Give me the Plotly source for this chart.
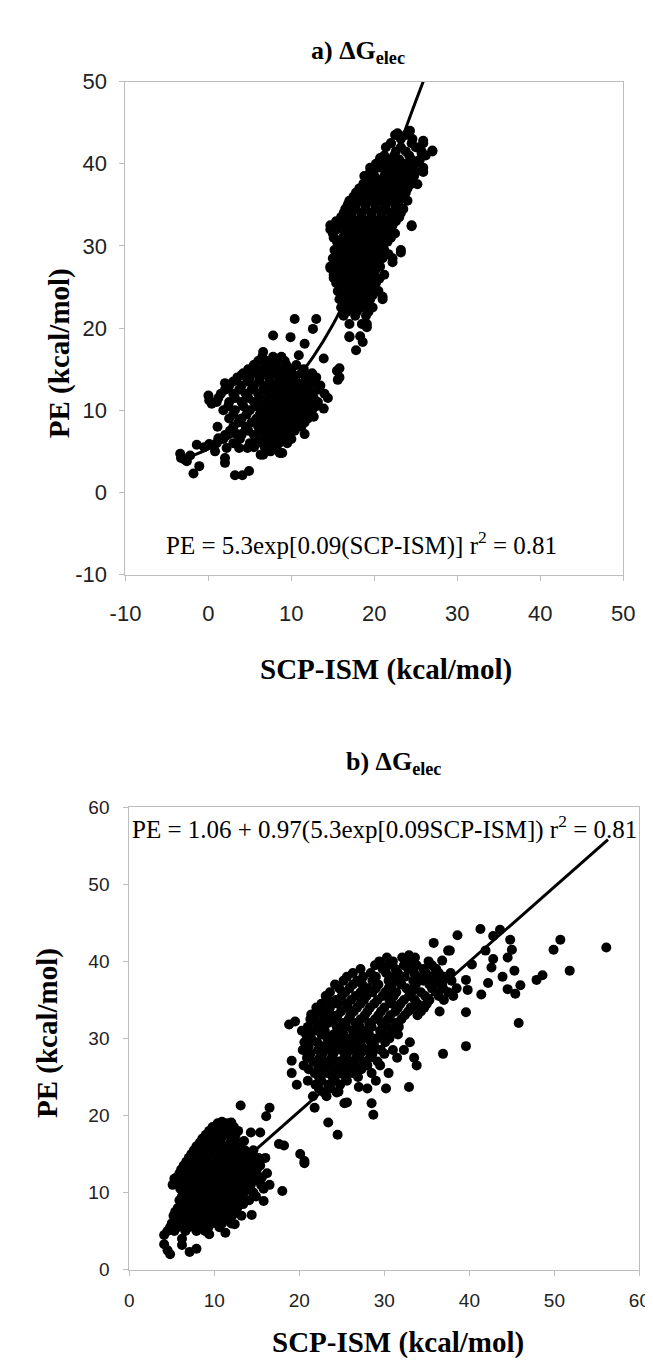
import plotly.graph_objects as go

W, H = 653, 1361

# ---------------- Panel a data (SCP-ISM vs PE) ----------------
a_lower_edge = [(-3.4,4.7),(-3.3,4.2),(-2.6,3.8),(-2.9,4.0),(-1.8,2.3),(-1.1,3.2),(-1.4,5.8),(-2.2,4.5),
    (-0.5,5.5),(0.1,5.9),(0.0,11.8),(0.1,11.2),(0.4,10.8),(1.1,8.0),(1.2,6.6),(2.2,5.4),(3.7,5.4),(4.7,5.4),
    (2.0,4.2),(2.0,3.6),(3.2,2.1),(4.1,2.1),(4.9,2.6),(6.3,4.6),(6.6,4.6),(8.6,4.8),(8.9,4.8),(3.4,7.1),
    (2.0,13.3),(4.0,14.3),(5.5,15.5),(6.6,17.1),(7.8,19.1),(9.9,18.9),(10.4,21.1),(13.0,21.1),(12.6,19.9),
    (11.6,18.1),(10.9,16.7),(13.9,16.3),(15.5,14.8),(15.6,13.7),(17.0,18.9),(17.8,17.3),(13.9,10.2),
    (12.7,9.2),(11.6,7.1),(10.5,7.8),(14.4,11.5),(18.6,18.3),(19.1,20.1),(15.8,15.1),(15.8,14.0)]
a_lower_core_y = [16, 15, 14, 13, 12, 11, 10, 9, 8, 7, 6, 5]
a_lower_core_x = [
    [6.0, 7.2, 8.3, 9.2],
    [4.8, 6.5, 7.5, 8.8, 10.0, 11.5],
    [3.5, 5.0, 6.2, 7.3, 8.5, 9.5, 10.5, 12.0, 13.0],
    [2.5, 4.0, 5.5, 6.8, 8.0, 9.0, 10.0, 11.0, 12.2, 13.5],
    [1.5, 3.0, 4.5, 6.0, 7.2, 8.3, 9.3, 10.3, 11.3, 12.5, 14.0],
    [1.0, 2.5, 4.0, 5.5, 6.8, 8.0, 9.0, 10.0, 11.0, 12.0, 13.2],
    [1.8, 3.2, 5.0, 6.5, 7.5, 8.5, 9.5, 10.5, 11.5, 12.5],
    [2.5, 4.0, 5.8, 7.0, 8.0, 9.0, 10.0, 11.0, 12.0],
    [3.0, 4.5, 6.0, 7.2, 8.2, 9.2, 10.2, 11.2],
    [2.0, 4.0, 5.5, 6.8, 7.8, 8.8, 9.8],
    [1.0, 3.0, 5.0, 6.5, 7.5, 8.5, 9.5],
    [0.8, 7.5],
]
a_lower_mid_y = [16.5, 15.5, 14.5, 13.5, 12.5, 11.5, 10.5, 9.5, 8.5, 7.5, 6.5, 5.5]
a_lower_mid_x = [
    [6.5, 7.8, 8.8],
    [5.5, 7.0, 8.1, 9.4, 10.6],
    [4.2, 5.7, 6.8, 7.9, 9.0, 10.1, 11.2, 12.5],
    [3.0, 4.7, 6.1, 7.4, 8.5, 9.5, 10.5, 11.6, 12.8],
    [2.0, 3.7, 5.2, 6.6, 7.7, 8.8, 9.8, 10.8, 11.9, 13.2],
    [1.2, 3.2, 4.8, 6.2, 7.5, 8.6, 9.6, 10.6, 11.6, 12.7],
    [2.4, 4.2, 5.8, 7.0, 8.0, 9.0, 10.0, 11.0, 12.0, 13.0],
    [3.0, 4.6, 6.2, 7.3, 8.3, 9.3, 10.3, 11.3, 12.3],
    [3.6, 5.2, 6.6, 7.7, 8.7, 9.7, 10.7, 11.6],
    [2.6, 4.8, 6.3, 7.4, 8.4, 9.4, 10.4],
    [1.8, 3.8, 5.8, 7.0, 8.0, 9.0, 10.0],
    [5.5, 6.8, 8.2],
]
a_upper_y = [43.5, 42.5, 41.5, 40.5, 39.5, 38.5, 37.5, 36.5, 35.5, 34.5, 33.5, 32.5, 31.5, 30.5,
             29.5, 28.5, 27.5, 26.5, 25.5, 24.5, 23.5, 22.5, 21.5, 20.5, 19.0]
a_upper_x = [
    [22.5, 23.8],
    [22.0, 24.5, 25.9],
    [22.6, 23.8, 25.7, 27.0],
    [20.7, 21.8, 23.0, 24.5, 25.5],
    [19.5, 20.8, 22.0, 23.2, 24.3, 25.9],
    [18.8, 20.0, 21.2, 22.4, 23.6, 24.8],
    [18.7, 19.8, 21.0, 22.2, 23.3, 24.4, 25.2],
    [17.8, 19.0, 20.2, 21.4, 22.6, 23.8],
    [17.0, 18.2, 19.4, 20.6, 21.8, 23.0, 24.0],
    [16.5, 17.7, 18.9, 20.1, 21.3, 22.5, 23.5],
    [16.0, 17.2, 18.4, 19.6, 20.8, 22.0, 23.0],
    [14.7, 16.2, 17.4, 18.6, 19.8, 21.0, 22.2, 24.5],
    [15.0, 16.5, 17.7, 18.9, 20.1, 21.3, 22.5],
    [15.5, 16.8, 18.0, 19.2, 20.4, 21.6],
    [15.2, 16.4, 17.6, 18.8, 20.0, 21.2, 23.2],
    [15.0, 16.2, 17.4, 18.6, 19.8, 21.0, 22.2],
    [14.7, 15.9, 17.1, 18.3, 19.5, 20.7],
    [15.1, 16.3, 17.5, 18.7, 19.9, 21.2],
    [15.4, 16.6, 17.8, 19.0, 20.2],
    [15.6, 16.8, 18.0, 19.2, 20.5],
    [15.8, 17.0, 18.2, 19.5, 21.0],
    [16.0, 17.2, 18.4, 19.8],
    [16.3, 17.7, 19.0],
    [17.0, 18.5, 19.1],
    [17.0, 18.3],
]
a_upper_mid_y = [43.0, 42.0, 41.0, 40.0, 39.0, 38.0, 37.0, 36.0, 35.0, 34.0, 33.0, 32.0, 31.0, 30.0,
                 29.0, 28.0, 27.0, 26.0, 25.0, 24.0, 23.0, 22.0]
a_upper_mid_x = [
    [23.2, 24.6],
    [21.4, 23.2, 25.0],
    [21.2, 22.4, 24.2, 26.2],
    [20.2, 21.4, 22.4, 23.7, 24.9],
    [19.9, 21.5, 22.7, 23.9, 25.0],
    [19.4, 20.5, 21.7, 22.9, 24.1],
    [18.2, 19.4, 20.5, 21.7, 22.8, 24.0],
    [17.5, 18.6, 19.8, 21.0, 22.2, 23.3],
    [16.8, 17.8, 19.0, 20.2, 21.4, 22.6],
    [16.3, 17.3, 18.5, 19.7, 20.9, 22.0, 23.2],
    [15.4, 16.6, 17.8, 19.0, 20.2, 21.4, 22.6],
    [15.5, 16.8, 18.0, 19.2, 20.4, 21.6],
    [15.1, 16.2, 17.4, 18.6, 19.8, 21.0, 22.0],
    [16.0, 17.2, 18.4, 19.6, 20.8],
    [15.6, 16.8, 18.0, 19.2, 20.4, 21.7],
    [15.4, 16.6, 17.8, 19.0, 20.2],
    [15.3, 16.5, 17.7, 18.9, 20.1],
    [15.8, 17.0, 18.2, 19.4, 20.6],
    [16.0, 17.2, 18.4, 19.6],
    [16.2, 17.4, 18.6, 19.8],
    [16.4, 17.6, 18.9],
    [16.7, 17.9, 19.3],
]
a_upper_edge = [(22.8,43.7),(24.3,44.0),(22.0,42.5),(25.9,42.8),(27.0,41.6),(25.7,41.3),(20.7,40.7),
    (24.5,40.4),(25.9,39.0),(19.5,39.0),(18.7,37.6),(17.0,35.4),(24.5,32.4),(14.7,32.0),(16.2,32.8),
    (23.2,29.2),(22.2,28.0),(14.7,27.3),(15.1,26.1),(21.0,23.8)]

# trend line of panel a
a_fit_x = [-3.5, 0, 5, 10, 15, 20, 23, 25.9]
a_fit_y = [3.9, 5.3, 8.3, 13.0, 20.4, 32.0, 42.0, 50.0]

# ---------------- Panel b data ----------------
b_lower_edge = [(4.1,4.5),(4.1,3.3),(4.5,2.5),(4.8,2.0),(6.2,4.0),(6.2,3.2),(7.1,2.3),(7.9,2.7),(9.4,4.6),
    (11.3,4.8),(12.4,5.9),(14.4,7.1),(15.8,8.9),(14.6,9.9),(16.5,11.0),(18.0,10.2),(5.3,11.8),(5.1,11.0),
    (10.9,19.2),(12.0,19.1),(13.1,21.3),(16.5,21.0),(16.1,19.9),(13.5,16.7),(14.3,17.8),(15.4,17.8),
    (17.6,16.3),(18.2,16.1),(20.1,15.0),(20.6,14.1),(20.6,13.8)]
b_lower_y = [19.0, 18.5, 18.0, 17.5, 17.0, 16.5, 16.0, 15.5, 15.0, 14.5, 14.0, 13.5, 13.0, 12.5, 12.0,
             11.5, 11.0, 10.5, 10.0, 9.5, 9.0, 8.5, 8.0, 7.5, 7.0, 6.5, 6.0, 5.5, 5.0]
b_lower_x = [
    [10.4, 11.5],
    [9.8, 11.0, 12.3],
    [9.4, 10.5, 11.9, 12.8],
    [9.0, 10.2, 11.4, 12.5],
    [8.6, 9.9, 10.8, 12.2],
    [8.3, 9.4, 10.6, 11.9, 13.0],
    [7.9, 9.1, 10.3, 11.4, 12.7],
    [7.6, 8.7, 9.9, 11.2, 12.4, 13.6, 14.6],
    [7.3, 8.4, 9.6, 10.8, 11.9, 13.2, 14.4],
    [7.0, 8.2, 9.2, 10.5, 11.5, 12.8, 14.0, 15.2, 16.0],
    [6.7, 7.8, 9.0, 10.2, 11.3, 12.4, 13.6, 14.7],
    [6.4, 7.5, 8.6, 9.7, 10.9, 12.0, 13.2, 14.4, 15.4],
    [6.1, 7.2, 8.3, 9.5, 10.6, 11.7, 12.9, 14.0, 15.0],
    [5.9, 7.0, 8.0, 9.2, 10.3, 11.5, 12.6, 13.7, 14.8, 16.2],
    [5.6, 6.6, 7.8, 8.9, 10.0, 11.2, 12.3, 13.4, 14.5, 15.6],
    [5.8, 6.9, 8.1, 9.3, 10.4, 11.6, 12.8, 13.9, 15.2],
    [6.2, 7.4, 8.6, 9.7, 10.8, 12.0, 13.1, 14.3, 15.5],
    [6.0, 7.0, 8.3, 9.5, 10.6, 11.7, 12.9, 14.0, 15.8],
    [6.4, 7.6, 8.8, 10.0, 11.1, 12.3, 13.5, 14.6],
    [6.2, 7.3, 8.5, 9.6, 10.8, 12.0, 13.2, 14.9],
    [5.9, 7.1, 8.2, 9.4, 10.5, 11.7, 12.9, 14.1],
    [6.3, 7.5, 8.7, 9.9, 11.0, 12.2, 13.4],
    [5.7, 6.9, 8.0, 9.2, 10.4, 11.5, 12.7],
    [5.4, 6.5, 7.7, 8.9, 10.1, 11.2, 12.4],
    [5.2, 6.2, 7.4, 8.6, 9.8, 11.0, 12.1, 13.2],
    [5.6, 6.8, 8.0, 9.2, 10.3, 11.6],
    [5.0, 6.1, 7.3, 8.5, 9.7, 10.9, 12.0],
    [4.8, 5.7, 7.0, 8.2, 9.3, 10.6],
    [4.5, 5.3, 6.6, 7.9, 8.9],
]
b_upper_y = [40.5, 40.0, 39.5, 39.0, 38.5, 38.0, 37.5, 37.0, 36.5, 36.0, 35.5, 35.0, 34.5, 34.0,
             33.5, 33.0, 32.5, 32.0, 31.5, 31.0, 30.5, 30.0, 29.5, 29.0, 28.5, 28.0, 27.5, 27.0,
             26.5, 26.0, 25.5, 25.0, 24.5, 24.0, 23.5, 23.0, 22.5]
b_upper_x = [
    [30.3, 32.1, 33.6],
    [29.4, 31.0, 33.1, 35.2],
    [28.9, 30.4, 32.3, 33.8, 35.6],
    [27.2, 29.8, 31.3, 32.8, 34.6, 36.1],
    [26.3, 28.4, 30.2, 31.6, 33.5, 34.9, 36.4],
    [25.6, 27.5, 29.0, 31.0, 32.4, 33.9, 35.5, 37.1],
    [25.2, 26.8, 28.6, 30.5, 31.6, 33.4, 34.6, 36.2, 37.9],
    [24.2, 26.3, 27.4, 29.3, 30.9, 32.0, 33.7, 35.3, 36.8],
    [24.7, 25.9, 28.0, 29.0, 30.5, 32.6, 33.5, 35.6, 36.9],
    [23.6, 25.4, 27.2, 28.6, 30.1, 31.4, 33.2, 34.3, 36.1, 37.5],
    [23.1, 25.0, 26.6, 27.9, 29.8, 31.1, 32.9, 34.8, 36.4, 38.1],
    [23.4, 24.3, 26.1, 27.6, 29.2, 30.6, 32.3, 33.6, 35.3],
    [22.6, 24.5, 25.5, 27.2, 28.8, 30.9, 31.9, 33.9, 35.0],
    [22.0, 23.6, 25.7, 26.8, 28.3, 30.0, 31.6, 33.1, 34.7],
    [22.4, 23.2, 24.9, 26.4, 28.0, 29.6, 31.3, 32.8, 34.3],
    [21.8, 23.8, 24.5, 26.0, 27.7, 29.3, 30.7, 32.4, 33.9],
    [21.3, 22.8, 24.2, 25.8, 27.2, 28.9, 30.4, 32.0],
    [22.0, 23.4, 25.1, 26.6, 28.2, 29.7, 31.3],
    [21.0, 22.5, 24.4, 25.5, 27.1, 28.5, 30.3, 31.7],
    [21.8, 23.0, 24.8, 26.3, 27.8, 29.5, 31.0],
    [20.8, 22.6, 24.0, 25.2, 26.9, 28.2, 29.9, 31.6],
    [21.4, 23.3, 24.6, 26.0, 27.5, 29.0, 30.6],
    [20.6, 22.1, 23.7, 25.3, 26.6, 28.4, 30.1, 33.0],
    [21.1, 22.8, 24.4, 25.8, 27.3, 28.8],
    [20.4, 22.2, 23.5, 24.9, 26.4, 27.9, 29.6, 31.0, 32.3],
    [21.3, 22.7, 24.0, 25.6, 27.1, 28.6, 30.0],
    [20.9, 22.4, 23.8, 25.3, 26.7, 28.3, 31.5, 33.5],
    [21.6, 23.1, 24.6, 26.1, 27.6, 29.2],
    [20.5, 22.2, 23.6, 25.2, 26.6, 28.0, 29.5, 33.8],
    [21.1, 22.8, 24.3, 25.7, 27.3],
    [21.8, 23.3, 24.8, 26.3, 28.5, 30.5],
    [22.3, 23.9, 25.4, 26.9],
    [21.0, 22.6, 24.2, 25.6, 29.0],
    [21.9, 23.4, 24.8],
    [22.3, 23.7, 28.0, 30.2],
    [22.9, 24.4],
    [21.6, 23.2],
]
b_upper_edge = [(21.8,21.0),(24.6,23.1),(25.3,21.6),(23.4,19.1),(24.5,17.5),(28.5,21.6),(28.7,20.1),
    (25.6,21.7),(27.0,23.7),(32.9,23.7),(19.7,24.0),(19.1,25.5),(19.1,27.1),(20.3,31.0),(18.8,31.8),
    (19.5,32.2),(21.4,33.1),(38.6,43.4),(35.8,42.4),(37.5,41.4),(32.9,40.8),(41.3,44.2),(43.6,44.1),
    (44.8,42.8),(45.0,41.5),(42.8,43.3),(37.7,41.4),(41.9,41.4),(50.7,42.8),(49.9,41.5),(56.1,41.8),
    (44.5,40.5),(42.8,40.3),(42.6,39.2),(45.3,38.8),(51.8,38.8),(43.9,38.0),(42.2,37.2),(48.6,38.2),
    (47.9,37.6),(46.0,36.9),(44.5,36.4),(45.4,35.8),(41.4,35.7),(39.8,36.3),(39.6,37.6),(40.3,39.6),
    (45.8,32.0),(39.6,33.4),(39.6,29.0),(36.8,40.1),(36.9,28.0),(37.0,35.0),(38.5,36.5),(36.5,33.5),
    (35.8,37.0),(37.8,38.5),(34.5,38.0),(36.0,39.0)]

# trend line of panel b
b_fit_x = [4.0, 56.3]
b_fit_y = [5.0, 55.8]

a_ticks = [-10, 0, 10, 20, 30, 40, 50]
a_tick_text = ["-10", "0", "10", "20", "30", "40", "50"]
b_ticks = [0, 10, 20, 30, 40, 50, 60]
b_tick_text = ["0", "10", "20", "30", "40", "50", "60"]


def collect(edge, *row_sets):
    xs = [p[0] for p in edge]
    ys = [p[1] for p in edge]
    for rows_y, rows_x in row_sets:
        for yv, row in zip(rows_y, rows_x):
            for xv in row:
                xs.append(xv)
                ys.append(yv)
    return xs, ys


ax1, ay1 = collect(a_lower_edge, (a_lower_core_y, a_lower_core_x), (a_lower_mid_y, a_lower_mid_x))
ax2, ay2 = collect(a_upper_edge, (a_upper_y, a_upper_x), (a_upper_mid_y, a_upper_mid_x))
bx1, by1 = collect(b_lower_edge, (b_lower_y, b_lower_x))
bx2, by2 = collect(b_upper_edge, (b_upper_y, b_upper_x))


def px(x):
    return x / W


def py(y):
    return 1 - y / H


mk = dict(color="black", size=10, line=dict(width=0))
fig = go.Figure()
fig.add_trace(go.Scatter(x=ax1 + ax2, y=ay1 + ay2, mode="markers", marker=mk, xaxis="x", yaxis="y"))
fig.add_trace(go.Scatter(x=a_fit_x, y=a_fit_y, mode="lines", line=dict(color="black", width=3, shape="spline"),
                         xaxis="x", yaxis="y"))
fig.add_trace(go.Scatter(x=bx1 + bx2, y=by1 + by2, mode="markers", marker=mk, xaxis="x2", yaxis="y2"))
fig.add_trace(go.Scatter(x=b_fit_x, y=b_fit_y, mode="lines", line=dict(color="black", width=3),
                         xaxis="x2", yaxis="y2"))

axis_common = dict(showgrid=False, zeroline=False, showline=True, linecolor="#bdbdbd", linewidth=1,
                   mirror=True, ticks="outside", ticklen=5, tickcolor="#bdbdbd", tickwidth=1)
tfa = dict(family="Liberation Sans, Arial", size=22, color="#222")
tfb = dict(family="Liberation Sans, Arial", size=19, color="#222")

fig.update_layout(
    width=W, height=H, autosize=False, showlegend=False,
    margin=dict(l=0, r=0, t=0, b=0),
    paper_bgcolor="white", plot_bgcolor="white",
    xaxis=dict(domain=[px(106), px(626)], range=[-10, 50], tickvals=a_ticks, ticktext=a_tick_text,
               anchor="y", tickfont=tfa, ticklabelstandoff=14, **axis_common),
    yaxis=dict(domain=[py(565), py(62.7)], range=[-10, 50], tickvals=a_ticks, ticktext=a_tick_text,
               anchor="x", tickfont=tfa, ticklabelstandoff=8, **axis_common),
    xaxis2=dict(domain=[px(110), px(643)], range=[0, 60], tickvals=b_ticks, ticktext=b_tick_text,
                anchor="y2", tickfont=tfb, ticklabelstandoff=9, **axis_common),
    yaxis2=dict(domain=[py(1273), py(802)], range=[0, 60], tickvals=b_ticks, ticktext=b_tick_text,
                anchor="x2", tickfont=tfb, ticklabelstandoff=10, **axis_common),
)

serif_b = dict(family="Liberation Serif, Times New Roman", size=29, color="black")
serif_t = dict(family="Liberation Serif, Times New Roman", size=26, color="black")
serif_r = dict(family="Liberation Serif, Times New Roman", size=25, color="black")

ann = [
    dict(text="<b>a) ΔG<sub>elec</sub></b>", x=px(349), y=py(33), font=serif_t),
    dict(text="<b>b) ΔG<sub>elec</sub></b>", x=px(386), y=py(757), font=serif_t),
    dict(text="<b>SCP-ISM (kcal/mol)</b>", x=px(378), y=py(662), font=serif_b),
    dict(text="<b>SCP-ISM (kcal/mol)</b>", x=px(391), y=py(1347), font=serif_b),
    dict(text="<b>PE (kcal/mol)</b>", x=px(37), y=py(339), font=serif_b, textangle=-90),
    dict(text="<b>PE (kcal/mol)</b>", x=px(24), y=py(1032), font=serif_b, textangle=-90),
    dict(text="PE = 5.3exp[0.09(SCP-ISM)] r<sup>2</sup> = 0.81", x=px(353), y=py(533), font=serif_r),
    dict(text="PE = 1.06 + 0.97(5.3exp[0.09SCP-ISM]) r<sup>2</sup> = 0.81", x=px(377), y=py(823), font=serif_r),
]
for a in ann:
    a.update(xref="paper", yref="paper", showarrow=False, xanchor="center", yanchor="middle")
fig.update_layout(annotations=ann)

fig.write_html("out.html")
